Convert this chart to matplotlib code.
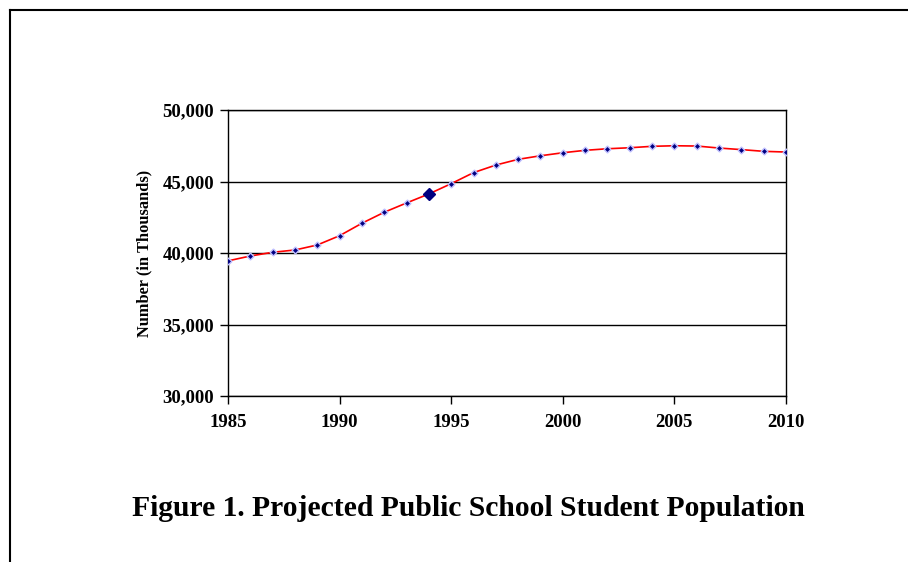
import numpy as np
import matplotlib.pyplot as plt
from matplotlib.lines import Line2D

years = list(range(1985, 2011))
students = [39450, 39790, 40050, 40210, 40560, 41210, 42080, 42850, 43500, 44130,
            44850, 45620, 46150, 46550, 46800, 47010, 47180, 47290, 47360, 47460,
            47500, 47480, 47340, 47230, 47110, 47060]
highlight_year = 1994
yticks = [30000, 35000, 40000, 45000, 50000]
xticks = [1985, 1990, 1995, 2000, 2005, 2010]

plt.rcParams['font.family'] = ['Liberation Serif', 'DejaVu Serif']
plt.rcParams['font.weight'] = 'bold'

fig = plt.figure(figsize=(9.08, 5.62), dpi=100)
ax = fig.add_axes([228/908, 1-396/562, (786-228)/908, (396-110)/562])

ax.plot(years, students, color='red', linewidth=1.2, zorder=2)
ax.plot(years, students, linestyle='none', marker='D', markersize=3.5,
        markerfacecolor='#000080', markeredgecolor='#c0c0ff', markeredgewidth=1.0, zorder=3)
i = years.index(highlight_year)
ax.plot([years[i]], [students[i]], linestyle='none', marker='D', markersize=6,
        markerfacecolor='#000080', markeredgecolor='#000080', zorder=4)

ax.set_xlim(1985, 2010)
ax.set_ylim(30000, 50000)
ax.set_xticks(xticks)
ax.set_yticks(yticks)
ax.set_yticklabels(['{:,}'.format(v) for v in yticks])
ax.tick_params(direction='out', length=6, width=1, labelsize=13.5, pad=4)
ax.tick_params(axis='x', pad=7)
ax.yaxis.grid(True, color='black', linewidth=1)
for s in ax.spines.values():
    s.set_linewidth(1)
    s.set_color('black')
ax.set_ylabel('Number (in Thousands)', fontsize=11.8, fontweight='bold', labelpad=7)

fig.text(468/908, 1-508/562, 'Figure 1. Projected Public School Student Population',
         ha='center', va='center', fontsize=21.3, fontweight='bold')

# outer frame
fig.add_artist(Line2D([10/908, 1], [1-10/562, 1-10/562], color='black', linewidth=1.5))
fig.add_artist(Line2D([10/908, 10/908], [0, 1-10/562], color='black', linewidth=1.5))

fig.savefig('out.png', dpi=100)
